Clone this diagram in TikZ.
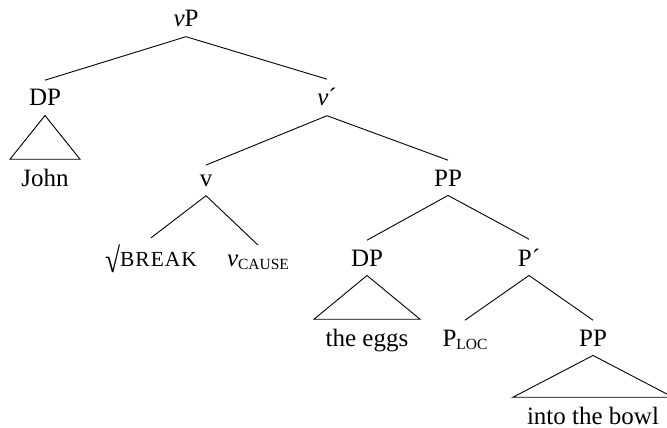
\documentclass[tikz,border=0pt]{standalone}
\usepackage{fontspec}
\setmainfont{Liberation Serif}
\newcommand{\lowcap}[1]{\raisebox{-3pt}{\fontsize{15.5}{16}\selectfont #1}}
\newcommand{\rootsign}{\raisebox{-6pt}{\scalebox{1.1}[1.4]{√}}}
\begin{document}
\begin{tikzpicture}[x=1pt,y=-1pt,line width=0.9pt,
	every node/.style={font=\fontsize{25}{30}\selectfont, inner sep=9pt, anchor=base},
	tri/.style={line join=miter}]
	\useasboundingbox (0,0) rectangle (667,428);
	\node (vP) at (186,27) {\textit{v}P};
	\node (DPa) at (45,106) {DP};
	\node (vbar) at (327,106) {\textit{v}´};
	\node (John) at (45,186) {John};
	\node (v) at (206,186) {v};
	\node (PPa) at (448,186) {PP};
	\node[inner ysep=6pt] (root) at (151,266) {\rootsign{\fontsize{21.5}{26}\selectfont B\kern1pt R\kern1pt E\kern1pt A\kern1pt K}};
	\node (cause) at (258,266) {\textit{v}\lowcap{CAUSE}};
	\node (DPb) at (367,266) {DP};
	\node (Pbar) at (529,266) {P´};
	\node (eggs) at (367,346) {the eggs};
	\node (Ploc) at (465,346) {P\lowcap{LOC}};
	\node (PPb) at (593,346) {PP};
	\node (bowl) at (593,424) {into the bowl};

	\draw (vP.south) -- (DPa.north);
	\draw (vP.south) -- (vbar.north);
	\draw[tri] (DPa.south) -- ([xshift=-35pt]John.north) -- ([xshift=35pt]John.north) -- cycle;
	\draw (vbar.south) -- (v.north);
	\draw (vbar.south) -- (PPa.north);
	\draw (v.south) -- (root.north);
	\draw (v.south) -- (cause.north);
	\draw (PPa.south) -- (DPb.north);
	\draw (PPa.south) -- (Pbar.north);
	\draw[tri] (DPb.south) -- ([xshift=-53pt]eggs.north) -- ([xshift=53pt]eggs.north) -- cycle;
	\draw (Pbar.south) -- (Ploc.north);
	\draw (Pbar.south) -- (PPb.north);
	\draw[tri] (PPb.south) -- ([xshift=-80pt]bowl.north) -- ([xshift=80pt]bowl.north) -- cycle;
\end{tikzpicture}
\end{document}
